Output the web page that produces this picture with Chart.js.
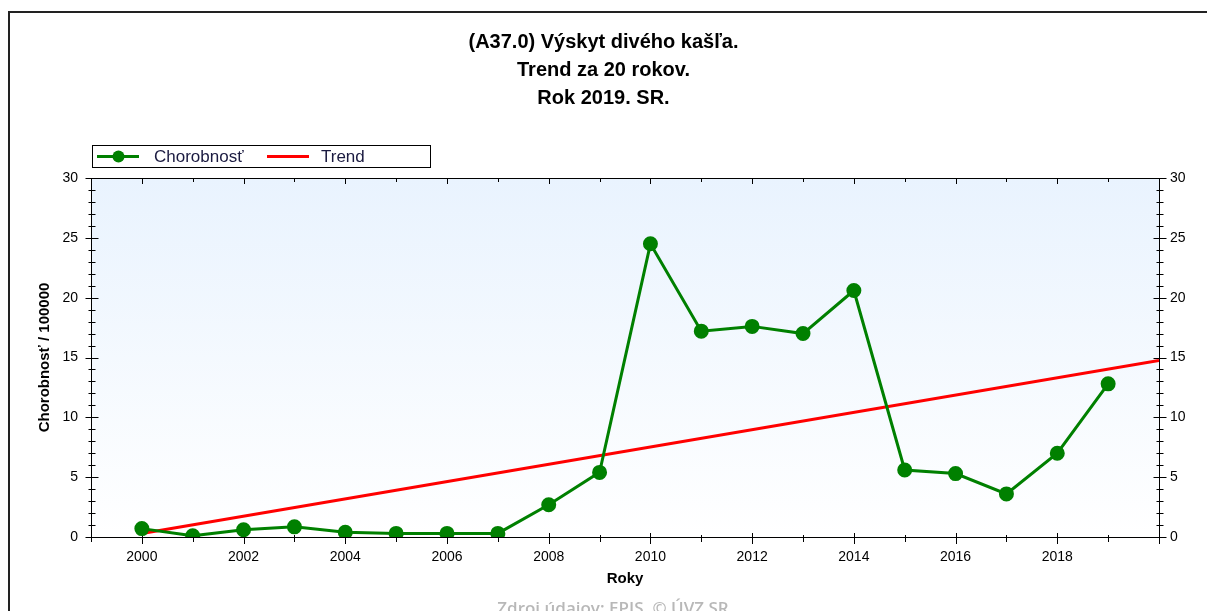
<!DOCTYPE html>
<html>
<head>
<meta charset="utf-8">
<script src="https://cdn.jsdelivr.net/npm/chart.js@4/dist/chart.umd.min.js"></script>
<style>
  html, body { margin: 0; padding: 0; background: #fff; }
  #chart { display: block; }
</style>
</head>
<body>
<canvas id="chart" width="1207" height="611"></canvas>
<script>
// data
const years = [2000, 2001, 2002, 2003, 2004, 2005, 2006, 2007, 2008, 2009,
               2010, 2011, 2012, 2013, 2014, 2015, 2016, 2017, 2018, 2019];
const incidence = [0.7, 0.1, 0.6, 0.85, 0.4, 0.3, 0.3, 0.3, 2.7, 5.4,
                   24.5, 17.2, 17.6, 17.0, 20.6, 5.6, 5.3, 3.6, 7.0, 12.8];
const trendYears = [2000, 2020];
const trendValues = [0.3, 14.75];

const titleLines = ["(A37.0) Výskyt divého kašľa.", "Trend za 20 rokov.", "Rok 2019. SR."];
const seriesLabels = ["Chorobnosť", "Trend"];
const yTitle = "Chorobnosť / 100000";
const xTitle = "Roky";
const sourceText = "Zdroj údajov: EPIS, © ÚVZ SR";

const FONT = "'Liberation Sans', Arial, sans-serif";
Chart.defaults.font.family = FONT;
Chart.defaults.color = "#000";

const GREEN = "#008000";
const RED = "#ff0000";

// background, frame, tick marks, legend, source line
const decor = {
    id: "decor",
    beforeDraw(chart) {
        const { ctx, chartArea: a } = chart;
        ctx.save();
        const g = ctx.createLinearGradient(0, a.top, 0, a.bottom);
        g.addColorStop(0, "#e9f3fe");
        g.addColorStop(1, "#ffffff");
        ctx.fillStyle = g;
        ctx.fillRect(a.left, a.top, a.right - a.left, a.bottom - a.top);

        ctx.strokeStyle = "#222";
        ctx.lineWidth = 2;
        ctx.beginPath();
        ctx.moveTo(9, 611);
        ctx.lineTo(9, 12);
        ctx.lineTo(1207, 12);
        ctx.stroke();
        ctx.restore();
    },
    beforeDatasetsDraw(chart) {
        const { ctx, chartArea: a, scales } = chart;
        ctx.save();
        ctx.strokeStyle = "#000";
        ctx.lineWidth = 1;
        ctx.strokeRect(Math.round(a.left) + 0.5, Math.round(a.top) + 0.5,
                       Math.round(a.right - a.left), Math.round(a.bottom - a.top));

        ctx.beginPath();
        // y ticks, both sides, crossing the axis
        scales.y.ticks.forEach(t => {
            const y = Math.round(scales.y.getPixelForValue(t.value)) + 0.5;
            const len = t.value % 5 === 0 ? 6 : 3;
            const xl = Math.round(a.left) + 0.5, xr = Math.round(a.right) + 0.5;
            ctx.moveTo(xl - len, y); ctx.lineTo(xl + len + 1, y);
            ctx.moveTo(xr - len, y); ctx.lineTo(xr + len + 1, y);
        });
        // x ticks, bottom and top
        scales.x.ticks.forEach(t => {
            const x = Math.round(scales.x.getPixelForValue(t.value)) + 0.5;
            const major = t.value % 2 === 0;
            const yb = Math.round(a.bottom), yt = Math.round(a.top);
            ctx.moveTo(x, yb - (major ? 4 : 2)); ctx.lineTo(x, yb + (major ? 7 : 5));
            ctx.moveTo(x, yt); ctx.lineTo(x, yt + (major ? 6 : 4));
        });
        ctx.stroke();
        ctx.restore();
    },
    afterDraw(chart) {
        const { ctx } = chart;
        const ds = chart.data.datasets;
        ctx.save();
        // legend box
        ctx.strokeStyle = "#000";
        ctx.lineWidth = 1;
        ctx.strokeRect(92.5, 145.5, 338, 22);
        ctx.font = "17px " + FONT;
        ctx.textBaseline = "middle";

        ctx.strokeStyle = ds[0].borderColor;
        ctx.lineWidth = 3;
        ctx.beginPath(); ctx.moveTo(97, 156.5); ctx.lineTo(139, 156.5); ctx.stroke();
        ctx.fillStyle = ds[0].pointBackgroundColor;
        ctx.beginPath(); ctx.arc(118.5, 156.5, 6, 0, Math.PI * 2); ctx.fill();
        ctx.fillStyle = "#1a1a40";
        ctx.fillText(ds[0].label, 154, 157);

        ctx.strokeStyle = ds[1].borderColor;
        ctx.beginPath(); ctx.moveTo(267, 156.5); ctx.lineTo(309, 156.5); ctx.stroke();
        ctx.fillText(ds[1].label, 321, 157);

        // source line
        ctx.font = "600 17px 'Open Sans', " + FONT;
        ctx.fillStyle = "#b8b8b8";
        ctx.textAlign = "center";
        ctx.fillText(sourceText, 613, 609);
        ctx.restore();
    }
};

new Chart(document.getElementById("chart"), {
    type: "line",
    data: {
        datasets: [
            {
                label: seriesLabels[0],
                data: years.map((y, i) => ({ x: y, y: incidence[i] })),
                borderColor: GREEN,
                backgroundColor: GREEN,
                pointBackgroundColor: GREEN,
                pointBorderColor: GREEN,
                borderWidth: 3,
                pointRadius: 6,
                pointHoverRadius: 6,
                tension: 0,
                yAxisID: "y",
                order: 1
            },
            {
                label: seriesLabels[1],
                data: trendYears.map((y, i) => ({ x: y, y: trendValues[i] })),
                borderColor: RED,
                backgroundColor: RED,
                borderWidth: 3,
                pointRadius: 0,
                tension: 0,
                yAxisID: "y",
                order: 2
            }
        ]
    },
    options: {
        responsive: false,
        animation: false,
        events: [],
        layout: { padding: 0 },
        plugins: {
            legend: { display: false },
            tooltip: { enabled: false },
            title: {
                display: true,
                text: titleLines,
                color: "#000",
                font: { size: 20, weight: "bold", lineHeight: 1.4 },
                padding: { top: 28, bottom: 66 }
            }
        },
        scales: {
            x: {
                type: "linear",
                min: 1999,
                max: 2020,
                grid: { display: false, drawTicks: true, tickLength: 8 },
                border: { display: false },
                ticks: {
                    stepSize: 1,
                    autoSkip: false,
                    maxRotation: 0,
                    padding: 4,
                    font: { size: 14 },
                    callback: v => (v % 2 === 0 && v < 2020) ? String(v) : ""
                },
                title: {
                    display: true,
                    text: xTitle,
                    font: { size: 15, weight: "bold" },
                    padding: { top: 0, bottom: 23 }
                },
                afterFit: s => { s.height = 74; }
            },
            y: {
                position: "left",
                min: 0,
                max: 30,
                grid: { display: false, drawTicks: true, tickLength: 8 },
                border: { display: false },
                ticks: {
                    stepSize: 1,
                    autoSkip: false,
                    padding: 5,
                    font: { size: 14 },
                    callback: v => v % 5 === 0 ? String(v) : ""
                },
                title: {
                    display: true,
                    text: yTitle,
                    font: { size: 15, weight: "bold" },
                    padding: { top: 36, bottom: 0 }
                },
                afterFit: s => { s.width = 91; }
            },
            y2: {
                position: "right",
                min: 0,
                max: 30,
                grid: { display: false, drawTicks: true, tickLength: 8 },
                border: { display: false },
                ticks: {
                    stepSize: 1,
                    autoSkip: false,
                    padding: 3,
                    font: { size: 14 },
                    callback: v => v % 5 === 0 ? String(v) : ""
                },
                afterFit: s => { s.width = 48; }
            }
        }
    },
    plugins: [decor]
});
</script>
</body>
</html>
